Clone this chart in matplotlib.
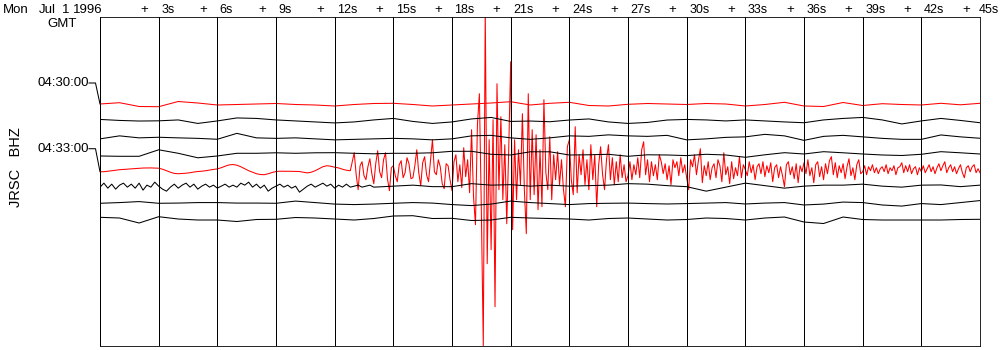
import numpy as np
import matplotlib
matplotlib.use("Agg")
import matplotlib.pyplot as plt

plt.rcParams['font.family'] = ['Liberation Sans', 'DejaVu Sans']

# ---------------- data ----------------
station = "JRSC   BHZ"
date_parts = ["Mon", "Jul", "1", "1996"]
tz_label = "GMT"
row_labels = {0: "04:30:00", 4: "04:33:00"}
tick_seconds = [3, 6, 9, 12, 15, 18, 21, 24, 27, 30, 33, 36, 39, 42, 45]
tick_labels = ["3s", "6s", "9s", "12s", "15s", "18s", "21s", "24s", "27s",
               "30s", "33s", "36s", "39s", "42s", "45s"]
duration = 45
trace_colors = ["red", "black", "black", "black", "red", "black", "black", "black"]

# smooth traces, one sample per second (displacement, up = positive)
trace0 = [0, 1.3, -2.5, -2.7, 2.5, 1, -1, -0.5, 0, 0.5,
          -0.5, -1, -2, -0.5, 0.5, 0.7, -0.5, -2, -1, 0,
          1, 2.3, -1, 0.7, 1.7, -1.5, -2, -0.3, 0.5, 0,
          -0.5, 0.5, 0, -2, -0.5, 1.7, -2, -2.5, 1.5, -1.5,
          0.3, -0.5, -1, 0.7, -0.8, 0.7]
trace1 = [1, 0, -0.6, -0.4, 0.5, -3, -0.5, 2.5, 2, 0.5,
          -0.5, -1.5, -2.5, -1.5, 0.5, 2, -1, -3, -1.5, 1.5,
          3, -1, -0.6, -1.3, 0.4, 1.5, -1.5, -3, -2, 0.4,
          1, 0.5, -0.5, 0.5, -0.5, -1.5, -2.3, 0.5, 2, 3,
          0.5, -3.5, -0.5, 2, 0, -2.3]
trace2 = [-2, 1, -1, -0.4, -1, -1.5, -2.4, 3.5, -1, -1.5,
          -1, -2, -3, -2.5, -2, -1.5, -2, -3, -2, 1,
          1.5, -1, -2.5, -1, 1, 0.5, 2, 1, 0.5, 1.5,
          -3, -2, -0.5, 0, 2.5, 1, -3.5, 0.5, 1.5, 0,
          -1.5, -2.5, -2.5, 1.9, 0, -1.4]
trace3 = [-2.7, -3, -3, 3.5, 0, -4.5, -2.7, 0, 0, 0.5,
          0, 0.5, 0.6, 0, -0.5, 0, 0, 0.5, 2, 2,
          -1, -1.7, 1.5, 1.5, -1.7, -1.5, -1, -3, -1.5, -1.7,
          -2.3, -1, -1.7, -4, -1.5, 0.6, -0.7, 1.6, 0.5, -0.7,
          -1.7, -2.2, -1, 1.6, 0.5, -0.7]
trace6 = [-0.7, 0, 1, -0.7, -0.5, 0, 0, -0.5, -0.5, -0.7,
          1.5, 0, -1.5, -2, -1.5, -0.7, 0, -0.5, -2, -3,
          -1.5, 1.5, 0, -1, -2, -1, -0.7, -0.5, -1, -1.4,
          -1, -0.5, 0, -1.4, -0.5, 0, -2.4, -1.5, 0.5, 0,
          -2.4, -3.5, -1, -2, 0, 2]
trace7 = [1.7, 1, -4, 2.3, 0, -1, -1, -2.5, -0.5, -0.3,
          1.5, 1, 0, -1, 0.5, 3, 3.3, 0.5, 0.7, -1.5,
          -1, 1.7, 1, 0.5, 0, -1, 0.5, 1, 0, -1,
          -0.5, 1, 0.5, -1, 1, 2, -3, -4.5, 2, -0.5,
          -1, -1, -1, -1, -0.5, -0.3]

# noisy black trace: 0.2 s samples for 0-14 s, then 1 s samples from 15 s
trace5_noise = [-1, 3, -2, 2, -3, 1, 3, -1, 2, -2,
                3, -4, 1, -1, 4, 0, -3, -5, -1, 2,
                -2, 1, 3, -1, 2, -3, 0, 2, -1, 1,
                -2, 0, 2, -1, 1, -1, 3, 1, 4, -1,
                2, -2, 1, -5, -2, 0, 2, -1, 1, -2,
                0, -6, -3, 0, 2, -1, 1, 3, 0, 2,
                -2, 1, -1, 2, -1, 0, 1, -1, 0, 1, -1]
trace5_rest = [0, 1, -0.5, -0.5, 2.5, 1, 1.5, 0, 1, 0,
               0.5, 1, 2.5, 2, 0.5, -0.5, -5, -1, 3, 0.5,
               -2, 0, 1, 1, 2, 0, -1, 1, 1.2, -0.5, 1]

# event trace: 0.2 s samples before the onset (0-12.8 s)
event_pre = [-2, -2, -1.5, -1, -0.5, 0, 0.3, 0.6, 1, 1.3,
             1.6, 1.7, 1.8, 1.8, 1.7, 1.5, 0.5, -1, -2.5, -3.7,
             -4, -3.8, -3.5, -3, -2.3, -1.8, -1.5, -1, -0.3, 0.3,
             0.8, 2, 3.5, 4.8, 5.2, 4.5, 3, 1, -1, -2.5,
             -4, -4.8, -5, -4, -2.8, -1.8, -1.5, -1.5, -1.5, -1.6,
             -1.7, -1.8, -2.5, -3.2, -2.5, -1, 1, 3, 4, 3.5,
             2.5, 1.8, 0.5, -0.5, -1]
# event trace: 0.1 s samples from 13.0 s to 45.0 s
event_main = [17, -5, -20, 4, 8, -6, -10, 3, 11, -4,
              -14, 6, 19, -2, -8, 10, 17, -9, -21, 2,
              4, -6, -12, 5, 9, -8, -3, 12, 6, -9,
              -8, 4, 20, -3, -16, 7, 13, -5, -12, 9,
              30, -2, -5, 10, 3, -14, -19, 6, 4, -10,
              -21, 8, 15, -12, 5, -18, 22, -7, 10, -23,
              40, -27, -55, 45, 76, -40, -176, 160, -94, 30,
              -80, 50, -137, 86, -20, 53, -30, 25, -54, 20,
              108, -60, 30, -30, 20, -15, 56, -20, -64, 76,
              -30, 40, -25, 35, -40, 20, -37, 70, -3, -20,
              33, -30, 15, -10, 18, -15, 10, -20, -37, 23,
              30, -10, -25, 43, -23, 15, -5, 20, -15, 10,
              -20, 25, -10, 15, -37, 5, 23, -5, -20, 10,
              25, -10, 12, -15, 8, -12, 15, -8, 5, -12,
              -6, 8, -10, 5, -5, 12, -8, 20, 28, -5,
              10, -12, 8, -6, 5, -10, 15, 8, -4, 6,
              -10, 4, -15, 10, 2, 8, -6, 12, -3, 5,
              -8, -20, 10, 3, 15, -5, 9, 21, -13, 4,
              -6, 8, -10, 2, 6, -8, 10, 4, -12, 17,
              -5, 3, -14, 8, -9, 2, -6, 13, -8, 5,
              0, -6, 8, -3, 5, -10, 3, 6, -4, 8,
              -7, 4, -3, 7, -12, 2, 5, -8, 3, -6,
              -17, 5, 8, -5, 3, -9, 6, -13, 4, -2,
              7, -4, 10, -6, 2, -13, 5, 8, -7, 3,
              -10, 6, -4, 9, 13, -5, 7, -8, 4, -3,
              6, -9, 3, 11, -6, 2, -10, 5, 10, -4,
              -2, 4, -5, 3, -1, 5, -3, 2, -4, 1,
              3, -2, 5, -4, 2, -1, 4, -5, 2, 3,
              7, -3, 4, -2, 5, -4, 1, 3, -5, 2,
              -2, 4, -3, 1, 5, -2, 3, -4, 2, 6,
              -1, 4, 8, -3, 2, 5, -2, 3, -4, 1,
              5, -3, -8, 2, 4, -2, 3, 5, -3, 1,
              -3]

# ---------------- assemble traces ----------------
def seg(start, dt, vals):
    return start + np.arange(len(vals)) * dt

traces = [
    (seg(0, 1.0, trace0), np.array(trace0)),
    (seg(0, 1.0, trace1), np.array(trace1)),
    (seg(0, 1.0, trace2), np.array(trace2)),
    (seg(0, 1.0, trace3), np.array(trace3)),
    (np.concatenate([seg(0, 0.2, event_pre), seg(13.0, 0.1, event_main)]),
     np.array(event_pre + event_main)),
    (np.concatenate([seg(0, 0.2, trace5_noise), seg(15.0, 1.0, trace5_rest)]),
     np.array(trace5_noise + trace5_rest)),
    (seg(0, 1.0, trace6), np.array(trace6)),
    (seg(0, 1.0, trace7), np.array(trace7)),
]

# ---------------- figure ----------------
W, H = 1000, 350
fig = plt.figure(figsize=(W / 100, H / 100), dpi=100)
left_px, right_px, top_px, bot_px = 100, 980, 17, 346
ax = fig.add_axes([left_px / W, (H - bot_px) / H,
                   (right_px - left_px) / W, (bot_px - top_px) / H])
ax.set_xlim(0, duration)
ax.set_ylim(bot_px, top_px)   # y in pixel-from-top units
ax.set_xticks([])
ax.set_yticks([])
LW = 0.6
for sp in ax.spines.values():
    sp.set_linewidth(LW)
    sp.set_color("black")

def px2t(xp):
    return (xp - left_px) * duration / (right_px - left_px)

first_base, spacing = 104, 16.43
for i, (t, v) in enumerate(traces):
    base = first_base + spacing * i
    z = 2 if trace_colors[i] == "red" else 3
    ax.plot(t, base - v, color=trace_colors[i], lw=0.75, zorder=z,
            antialiased=True)

for s in range(0, duration + 1, 3):
    ax.axvline(s, color="black", lw=LW, zorder=4, antialiased=False)

fs = 9.5
# header
for txt, xp in zip(date_parts, [3, 39, 62, 73]):
    ax.text(px2t(xp), 13, txt, fontsize=fs, ha="left", va="baseline", clip_on=False)
ax.text(px2t(77), 27, tz_label, fontsize=fs, ha="right", va="baseline", clip_on=False)

renderer = fig.canvas.get_renderer()
for s, lab in zip(tick_seconds, tick_labels):
    ax.text(s - 0.72, 13, "+", fontsize=fs, ha="center", va="baseline", clip_on=False)
    txt = ax.text(s + px2t(102.5), 13, lab, fontsize=9, ha="left", va="baseline",
                  clip_on=False)
    bb = txt.get_window_extent(renderer)
    if bb.x1 > W - 1:
        txt.set_x(s + px2t(102.5 - (bb.x1 - (W - 1))))

# row time labels with connectors
for i, lab in row_labels.items():
    base = first_base + spacing * i
    y0 = base - traces[i][1][0]
    ly = base - 21
    ax.text(px2t(89), ly, lab, fontsize=fs, ha="right", va="center", clip_on=False)
    ax.plot([px2t(89), px2t(95.5), 0], [ly, ly, y0], color="black", lw=0.75,
            clip_on=False, antialiased=True)

ax.text(px2t(16), 167, station, fontsize=fs + 1, rotation=90, ha="center",
        va="center", clip_on=False)

fig.savefig("out.png", dpi=100)
